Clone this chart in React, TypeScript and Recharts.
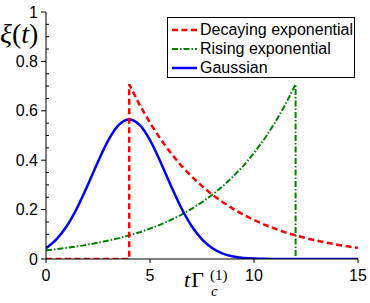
import React from "react";
import { LineChart, Line, XAxis, YAxis, Legend } from "recharts";

// ---- data ----
const decayT = [0, 4, 4, 4.5, 5, 5.5, 6, 6.5, 7, 7.5, 8, 8.5, 9, 9.5, 10, 10.5, 11, 11.5, 12, 12.5, 13, 13.5, 14, 14.5, 15];
const decayV = [0, 0, 0.707, 0.624, 0.551, 0.486, 0.429, 0.378, 0.334, 0.295, 0.26, 0.23, 0.203, 0.179, 0.158, 0.139, 0.123, 0.108, 0.0957, 0.0844, 0.0745, 0.0658, 0.058, 0.0512, 0.0452];

const riseT = [0, 0.5, 1, 1.5, 2, 2.5, 3, 3.5, 4, 4.5, 5, 5.5, 6, 6.5, 7, 7.5, 8, 8.5, 9, 9.5, 10, 10.5, 11, 11.5, 12, 12];
const riseV = [0.0352, 0.0399, 0.0452, 0.0512, 0.058, 0.0658, 0.0745, 0.0844, 0.0957, 0.108, 0.123, 0.139, 0.158, 0.179, 0.203, 0.23, 0.26, 0.295, 0.334, 0.378, 0.429, 0.486, 0.551, 0.624, 0.707, 0];

const gaussT = [0, 0.5, 1, 1.5, 2, 2.5, 3, 3.5, 4, 4.5, 5, 5.5, 6, 6.5, 7, 7.5, 8, 8.5, 9, 9.5, 10, 10.5, 11, 11.5, 12, 12.5, 13, 13.5, 14, 14.5, 15];
const gaussV = [0.0435, 0.0793, 0.1336, 0.2075, 0.2976, 0.394, 0.4813, 0.5428, 0.565, 0.5428, 0.4813, 0.394, 0.2976, 0.2075, 0.1336, 0.0793, 0.0435, 0.022, 0.0103, 0.0044, 0.0018, 0.0007, 0.0002, 0, 0, 0, 0, 0, 0, 0, 0];

const xTicks = [0, 5, 10, 15];
const yMajorTicks = [0, 0.2, 0.4, 0.6, 0.8, 1];
const yMinorTicks = [0.05, 0.1, 0.15, 0.25, 0.3, 0.35, 0.45, 0.5, 0.55, 0.65, 0.7, 0.75, 0.85, 0.9, 0.95];

const seriesNames = ["Decaying exponential", "Rising exponential", "Gaussian"];

const decayData = decayT.map((t, i) => ({ t, v: decayV[i] }));
const riseData = riseT.map((t, i) => ({ t, v: riseV[i] }));
const gaussData = gaussT.map((t, i) => ({ t, v: gaussV[i] }));
const yTicks = [...yMajorTicks, ...yMinorTicks].sort((a, b) => a - b);

const RED = "#ff0000";
const GREEN = "#008000";
const BLUE = "#0000ff";
const RED_DASH = "6 3.5";
const GREEN_DASH = "6 2 1.5 2";

const SANS = "'Liberation Sans', Arial, sans-serif";
const SERIF = "'Liberation Serif', 'Times New Roman', serif";

function YTick(props: any) {
  const { x, y, payload } = props;
  const v = payload.value;
  const major = yMajorTicks.includes(v);
  if (major) {
    return (
      <g>
        <line x1={x - 5} x2={x} y1={y} y2={y} stroke="#000" strokeWidth={1} />
        <text x={x - 8} y={y} dy="0.355em" textAnchor="end" fontFamily={SANS} fontSize={16} fill="#000">
          {String(v)}
        </text>
      </g>
    );
  }
  return <line x1={x} x2={x + 3} y1={y} y2={y} stroke="#000" strokeWidth={1} />;
}

function XLabel() {
  return (
    <g>
      <text x={184} y={287} fontFamily={SERIF} fontSize={22} fill="#000">
        <tspan fontStyle="italic">t</tspan>
        <tspan dx={1}>Γ</tspan>
      </text>
      <text x={210} y={280} fontFamily={SERIF} fontSize={15} fill="#000">(1)</text>
      <text x={211} y={296} fontFamily={SERIF} fontSize={15} fontStyle="italic" fill="#000">c</text>
    </g>
  );
}

function YLabel() {
  return (
    <text x={0} y={43} fontFamily={SERIF} fontSize={28} fill="#000">
      <tspan fontStyle="italic">ξ</tspan>
      <tspan>(</tspan>
      <tspan fontStyle="italic">t</tspan>
      <tspan>)</tspan>
    </text>
  );
}

function LegendBox() {
  const styles = [
    { color: RED, dash: RED_DASH, w: 2.5 },
    { color: GREEN, dash: GREEN_DASH, w: 2 },
    { color: BLUE, dash: undefined, w: 2.5 },
  ];
  return (
    <div
      style={{
        border: "1px solid #000",
        background: "#fff",
        padding: "2px 0 0 0",
        boxSizing: "border-box",
        fontFamily: SANS,
        fontSize: 16,
        color: "#000",
      }}
    >
      {seriesNames.map((name, i) => (
        <div key={name} style={{ display: "flex", alignItems: "center", height: 19, whiteSpace: "nowrap" }}>
          <svg width={32} height={10} style={{ display: "block" }}>
            <line
              x1={4}
              x2={29}
              y1={5}
              y2={5}
              stroke={styles[i].color}
              strokeWidth={styles[i].w}
              strokeDasharray={styles[i].dash}
            />
          </svg>
          <span style={{ lineHeight: "19px" }}>{name}</span>
        </div>
      ))}
    </div>
  );
}

export default function App() {
  return (
    <div style={{ position: "absolute", left: 0, top: 0, width: 370, height: 303, background: "#fff" }}>
      <LineChart width={370} height={303} margin={{ top: 12, right: 12, bottom: 0, left: 0 }}>
        <XAxis
          dataKey="t"
          type="number"
          domain={[0, 15]}
          ticks={xTicks}
          interval={0}
          height={44}
          tickSize={4}
          tickMargin={7}
          stroke="#000"
          tick={{ fontFamily: SANS, fontSize: 16, fill: "#000" }}
          allowDataOverflow
          label={<XLabel />}
        />
        <YAxis
          type="number"
          domain={[0, 1]}
          ticks={yTicks}
          interval={0}
          width={46}
          tickSize={0}
          tickMargin={0}
          tickLine={false}
          stroke="#000"
          tick={<YTick />}
          allowDataOverflow
          label={<YLabel />}
        />
        <Legend
          layout="vertical"
          align="center"
          verticalAlign="middle"
          wrapperStyle={{ left: 167, top: 17, width: 188, right: "auto", bottom: "auto" }}
          content={<LegendBox />}
        />
        <Line
          name={seriesNames[1]}
          data={riseData}
          dataKey="v"
          type="linear"
          stroke={GREEN}
          strokeWidth={2}
          strokeDasharray={GREEN_DASH}
          dot={false}
          activeDot={false}
          isAnimationActive={false}
        />
        <Line
          name={seriesNames[2]}
          data={gaussData}
          dataKey="v"
          type="monotone"
          stroke={BLUE}
          strokeWidth={2.5}
          dot={false}
          activeDot={false}
          isAnimationActive={false}
        />
        <Line
          name={seriesNames[0]}
          data={decayData}
          dataKey="v"
          type="linear"
          stroke={RED}
          strokeWidth={2.5}
          strokeDasharray={RED_DASH}
          dot={false}
          activeDot={false}
          isAnimationActive={false}
        />
      </LineChart>
    </div>
  );
}
